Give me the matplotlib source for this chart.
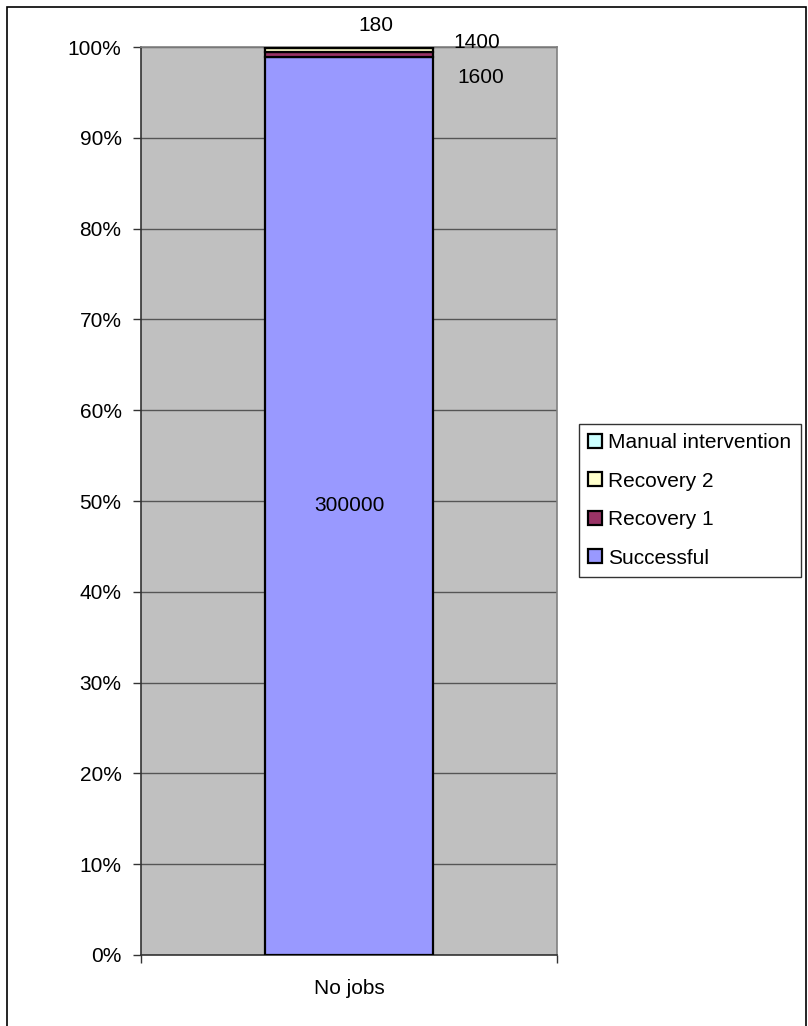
import matplotlib
matplotlib.use("Agg")
import matplotlib.pyplot as plt
from matplotlib.patches import Rectangle
import numpy as np

plt.rcParams['font.family'] = ['Liberation Sans', 'DejaVu Sans']

categories = ["No jobs"]
series_names = ["Successful", "Recovery 1", "Recovery 2", "Manual intervention"]
series_values = [300000, 1600, 1400, 180]
series_colors = ["#9999FF", "#993366", "#FFFFCC", "#CCFFFF"]
y_ticks = [0, 10, 20, 30, 40, 50, 60, 70, 80, 90, 100]
y_tick_labels = ["0%", "10%", "20%", "30%", "40%", "50%", "60%", "70%", "80%", "90%", "100%"]
# label offsets (pixels) from segment centre, mimicking moved Excel data labels
label_offsets = [(0, 0), (132, -23), (128, 7), (27, 22)]

W, H = 808, 1026
fig = plt.figure(figsize=(W / 100, H / 100), dpi=100)
fig.patch.set_facecolor("white")

ax = fig.add_axes([141 / W, 1 - 955 / H, (557 - 141) / W, (955 - 47) / H])
ax.set_facecolor("#C0C0C0")

total = sum(series_values)
pct = [v / total * 100 for v in series_values]
bottom = 0.0
handles = []
for name, v, p, c, off in zip(series_names, series_values, pct, series_colors, label_offsets):
    b = ax.bar(0, p, bottom=bottom, width=0.406, color=c, edgecolor="black",
               linewidth=1.6, label=name, zorder=3)
    handles.append(b)
    ax.annotate(str(v), xy=(0, bottom + p / 2), xytext=off, textcoords="offset pixels",
                ha="center", va="center", fontsize=15, color="black", zorder=5,
                annotation_clip=False)
    bottom += p

ax.set_xlim(-0.5, 0.5)
ax.set_ylim(0, 100)
ax.set_yticks(y_ticks)
ax.set_yticklabels(y_tick_labels, fontsize=15)
ax.set_xticks([0])
ax.set_xticklabels(categories, fontsize=15)
ax.set_xticks([-0.5, 0.5], minor=True)
ax.tick_params(axis="x", which="major", length=0, pad=17)
ax.tick_params(axis="x", which="minor", length=6, width=1, color="#333333", direction="out")
ax.tick_params(axis="y", length=6, width=1, color="#333333", direction="out", pad=8)

ax.yaxis.grid(True, color="#555555", linewidth=1, zorder=1)
ax.set_axisbelow(True)
for s in ["left", "bottom"]:
    ax.spines[s].set_color("#333333")
    ax.spines[s].set_linewidth(1.2)
for s in ["top", "right"]:
    ax.spines[s].set_color("#808080")
    ax.spines[s].set_linewidth(1.2)

leg = fig.legend(handles=handles[::-1], labels=series_names[::-1],
                 loc="upper left", bbox_to_anchor=(579 / W, 1 - 424 / H),
                 fontsize=15, frameon=True, fancybox=False, shadow=False,
                 handlelength=0.65, handleheight=0.65, handletextpad=0.3,
                 borderpad=0.45, labelspacing=0.93, borderaxespad=0)
leg.get_frame().set_edgecolor("black")
leg.get_frame().set_linewidth(1)

frame = Rectangle((7 / W, -0.02), (806 - 7) / W, 1.02 - 7 / H, transform=fig.transFigure,
                  fill=False, edgecolor="black", linewidth=1.2)
fig.patches.append(frame)

fig.savefig("out.png", dpi=100)
